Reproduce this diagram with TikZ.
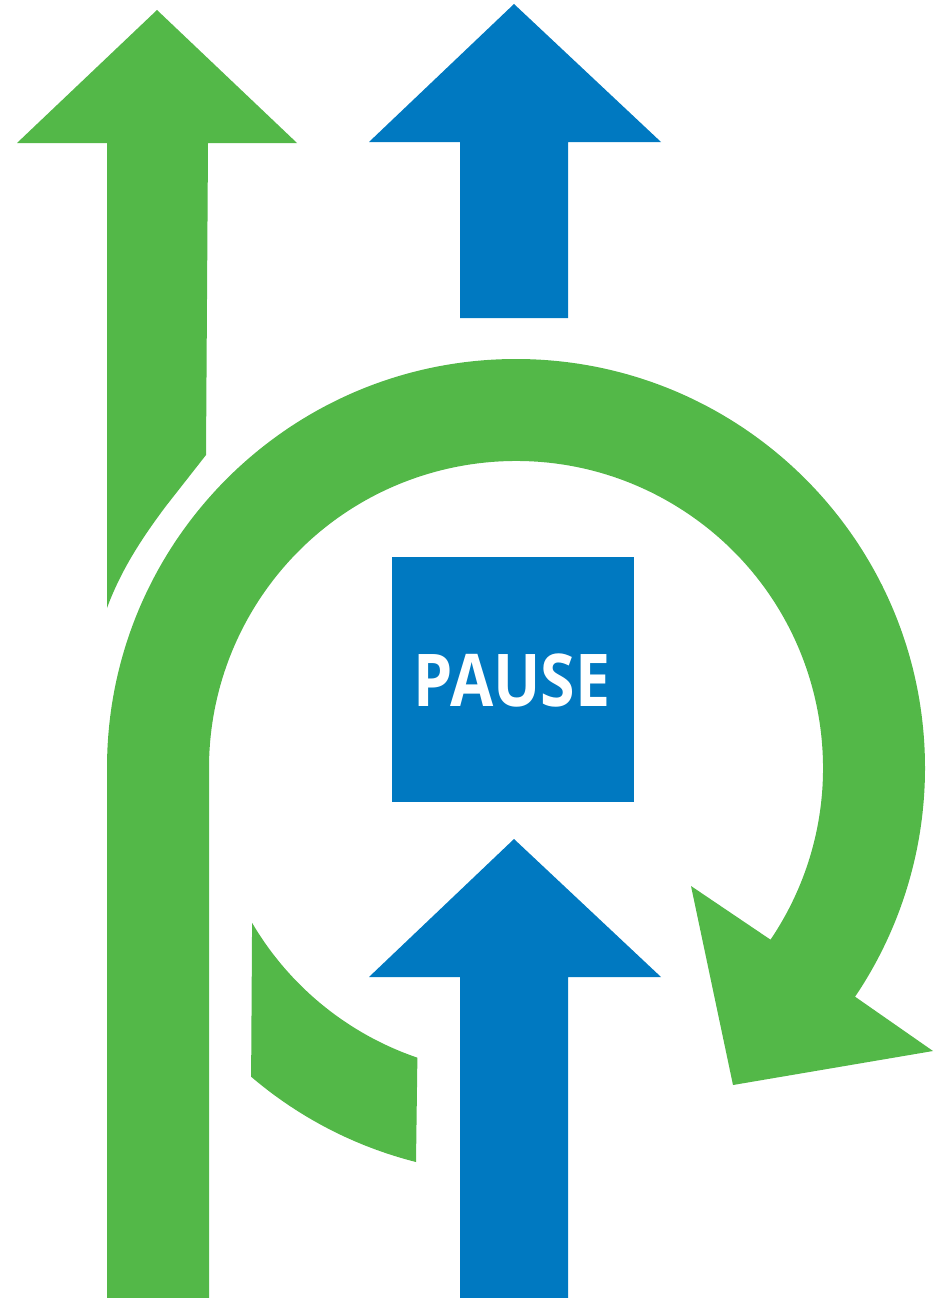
\documentclass[tikz,border=0pt]{standalone}
\usepackage{fontspec}
\setmainfont{Open Sans}
\usetikzlibrary{calc}
\definecolor{pgreen}{HTML}{53B848}
\definecolor{pblue}{HTML}{0079C1}
\tikzset{
  greenshape/.style={fill=pgreen, draw=none},
  blueshape/.style={fill=pblue, draw=none},
}
\begin{document}
\begin{tikzpicture}[x=1pt,y=-1pt]
\useasboundingbox (0,0) rectangle (935,1298);
\coordinate (C) at (516,768);
% top-left green arrow
\fill[greenshape] (17,143) -- (157,10) -- (297,143) -- (208,143) -- (206,455) -- (166,506)
  .. controls (142,538) and (121,570) .. (107,608) -- (107,70) -- (107,143) -- cycle;
% top blue arrow
\fill[blueshape] (369,142) -- (514,4) -- (661,142) -- (568,142) -- (568,318) -- (460,318) -- (460,142) -- cycle;
% big circular green arrow
\fill[greenshape] (107,1298) -- (107,768) arc[start angle=180, end angle=394, radius=409]
  -- (933,1051) -- (733,1085) -- (691,886) -- ($(C)+(34:307)$)
  arc[start angle=34, end angle=-180, radius=307] -- (209,1298) -- cycle;
% lower green segment
\fill[greenshape] ($(C)+(149.6:306)$) arc[start angle=149.6, end angle=108.8, radius=306]
  -- (416,1162) arc[start angle=104.2, end angle=130.5, radius=408] -- cycle;
% bottom blue arrow
\fill[blueshape] (369,977) -- (514,839) -- (661,977) -- (568,977) -- (568,1298) -- (460,1298) -- (460,977) -- cycle;
% pause box
\node[blueshape, minimum width=242pt, minimum height=245pt, inner sep=0pt, anchor=north west] (box) at (392,557) {};
\node[text=white, font=\fontsize{70}{70}\selectfont\bfseries, inner sep=0pt] (txt) at (512,680) {\scalebox{0.895}[1.04]{PAUSE}};
\end{tikzpicture}
\end{document}
